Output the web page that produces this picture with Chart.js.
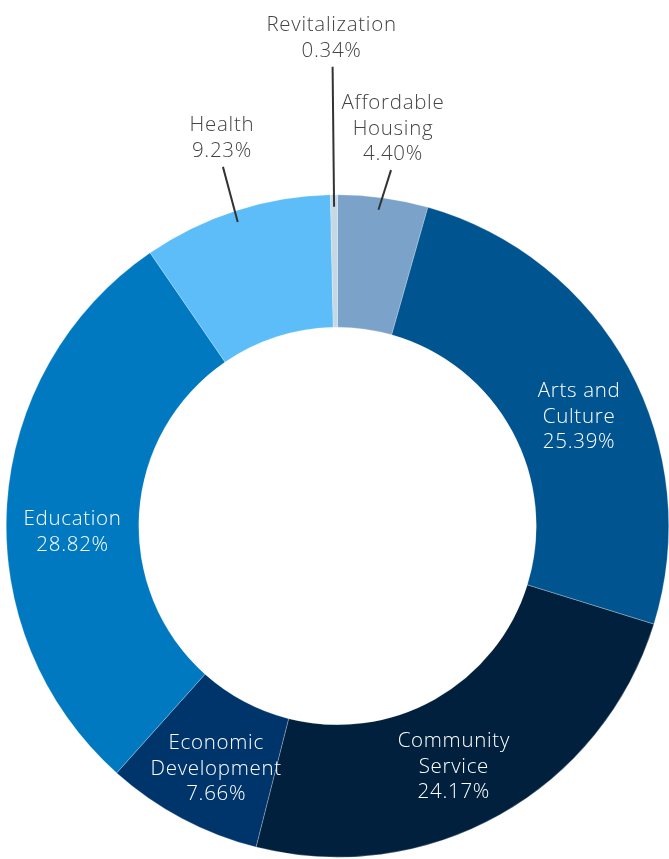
<!DOCTYPE html>
<html><head><meta charset="utf-8">
<script src="https://cdn.jsdelivr.net/npm/chart.js@4/dist/chart.umd.min.js"></script>
<style>html,body{margin:0;padding:0;background:#fff;}#wrap{width:669px;height:859px;position:relative;}</style>
</head><body><div id="wrap"><canvas id="c"></canvas></div>
<script>
const categories = ["Affordable Housing","Arts and Culture","Community Service","Economic Development","Education","Health","Revitalization"];
const labelLines = [["Affordable","Housing"],["Arts and","Culture"],["Community","Service"],["Economic","Development"],["Education"],["Health"],["Revitalization"]];
const values = [4.40, 25.39, 24.17, 7.66, 28.82, 9.23, 0.34];
const colors = ["#7ba3c9","#00548f","#00203d","#00356b","#0079c1","#5dbdf8","#c5d8e3"];
const placement = [
  {out:true, len:28, sdx:-3, edx:4, tdx:2},
  {out:false, f:0.5, da:4.2},
  {out:false, f:0.52, da:3.5},
  {out:false, f:0.55, da:-1.5},
  {out:false, f:0.5, da:-5},
  {out:true, len:46, sdx:-2, edx:1, tdx:-1},
  {out:true, len:128, sdx:0, edx:0, tdx:-1}
];
const FONT = '300 20.5px "Open Sans", Lato, sans-serif';
const labelPlugin = {
  id:'labels',
  afterDatasetsDraw(chart){
    const ctx = chart.ctx;
    const meta = chart.getDatasetMeta(0);
    ctx.save();
    ctx.font = FONT;
    try{ ctx.letterSpacing = '0.7px'; }catch(e){}
    ctx.textAlign = 'center';
    ctx.textBaseline = 'middle';
    const lh = 25.5;
    meta.data.forEach((arc,i)=>{
      const p = arc.getProps(['x','y','startAngle','endAngle','innerRadius','outerRadius'],true);
      const mid = (p.startAngle+p.endAngle)/2;
      const lines = labelLines[i].concat([values[i].toFixed(2)+'%']);
      const pl = placement[i];
      if(!pl.out){
        const a = mid + pl.da*Math.PI/180;
        const r = p.innerRadius + (p.outerRadius-p.innerRadius)*pl.f;
        const cx = p.x + Math.cos(a)*r, cy = p.y + Math.sin(a)*r;
        ctx.fillStyle = '#ffffff';
        lines.forEach((t,k)=>ctx.fillText(t, cx, cy + (k-(lines.length-1)/2)*lh));
      } else {
        const r0 = p.outerRadius-12, r1 = p.outerRadius+pl.len;
        const x0 = p.x+Math.cos(mid)*r0+pl.sdx, y0 = p.y+Math.sin(mid)*r0;
        const x1 = p.x+Math.cos(mid)*r1+pl.edx, y1 = p.y+Math.sin(mid)*r1;
        ctx.strokeStyle = '#333333'; ctx.lineWidth = 2;
        ctx.beginPath(); ctx.moveTo(x0,y0); ctx.lineTo(x1,y1); ctx.stroke();
        ctx.fillStyle = '#444444';
        const n = lines.length;
        lines.forEach((t,k)=>ctx.fillText(t, x1+pl.tdx, y1 - 16 - (n-1-k)*lh));
      }
    });
    ctx.restore();
  }
};
new Chart(document.getElementById('c'),{
  type:'doughnut',
  data:{labels:categories,datasets:[{data:values,backgroundColor:colors,borderColor:'rgba(255,255,255,0.5)',borderWidth:0.5}]},
  options:{
    responsive:true, maintainAspectRatio:false, animation:false,
    cutout:'60%', rotation:0,
    layout:{padding:{left:6,right:0,top:193,bottom:0}},
    plugins:{legend:{display:false},tooltip:{enabled:false}}
  },
  plugins:[labelPlugin]
});
</script></body></html>
